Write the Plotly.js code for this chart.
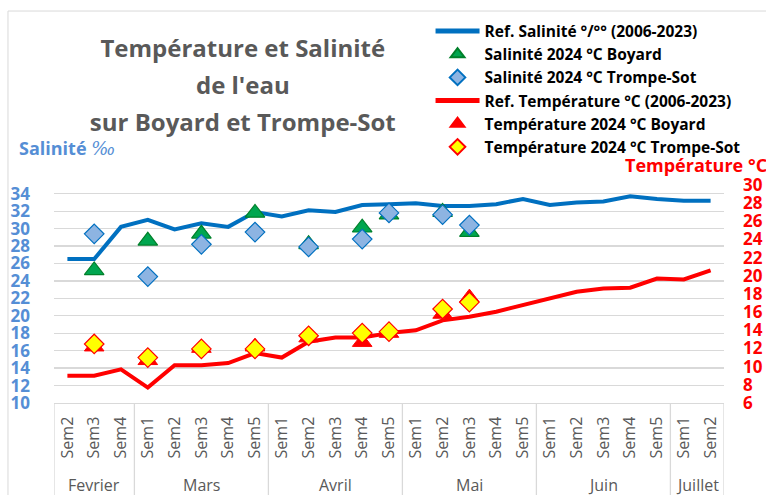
<!DOCTYPE html>
<html>
<head>
<meta charset="utf-8">
<script src="https://cdn.plot.ly/plotly-3.0.1.min.js"></script>
<style>
  html, body { margin: 0; padding: 0; background: #ffffff; }
  #chart { width: 766px; height: 495px; }
</style>
</head>
<body>
<div id="chart"></div>
<script>
// ---- Data ----
const months = ['Fevrier','Fevrier','Fevrier',
  'Mars','Mars','Mars','Mars','Mars',
  'Avril','Avril','Avril','Avril','Avril',
  'Mai','Mai','Mai','Mai','Mai',
  'Juin','Juin','Juin','Juin','Juin',
  'Juillet','Juillet'];
const weeks = ['Sem2','Sem3','Sem4',
  'Sem1','Sem2','Sem3','Sem4','Sem5',
  'Sem1','Sem2','Sem3','Sem4','Sem5',
  'Sem1','Sem2','Sem3','Sem4','Sem5',
  'Sem1','Sem2','Sem3','Sem4','Sem5',
  'Sem1','Sem2'];

const refSalinite = [26.5, 26.5, 30.2, 31.0, 29.9, 30.6, 30.2, 31.9, 31.4, 32.1, 31.9, 32.7, 32.8,
  32.9, 32.6, 32.6, 32.8, 33.4, 32.7, 33.0, 33.1, 33.7, 33.4, 33.2, 33.2];
const salBoyard = [null, 25.2, null, 28.6, null, 29.4, null, 31.8, null, 28.2, null, 30.1, 31.6,
  null, 31.9, 29.6, null, null, null, null, null, null, null, null, null];
const salTrompeSot = [null, 29.4, null, 24.5, null, 28.2, null, 29.6, null, 27.9, null, 28.8, 31.8,
  null, 31.6, 30.4, null, null, null, null, null, null, null, null, null];

const refTemperature = [9.0, 9.0, 9.7, 7.7, 10.15, 10.15, 10.4, 11.5, 11.0, 12.75, 13.2, 13.2, 13.7,
  14.0, 15.1, 15.5, 16.05, 16.8, 17.6, 18.25, 18.6, 18.7, 19.7, 19.6, 20.6];
const tempBoyard = [null, 12.2, null, 10.7, null, 12.05, null, 12.2, null, 13.2, null, 12.7, 13.7,
  null, 15.8, 17.6, null, null, null, null, null, null, null, null, null];
const tempTrompeSot = [null, 12.5, null, 11.0, null, 11.95, null, 11.95, null, 13.4, null, 13.7, 13.85,
  null, 16.35, 17.1, null, null, null, null, null, null, null, null, null];

const salTicks = [10, 12, 14, 16, 18, 20, 22, 24, 26, 28, 30, 32, 34];
const tempTicks = [6, 8, 10, 12, 14, 16, 18, 20, 22, 24, 26, 28, 30];

const titleLines = ["Température et Salinité", "de l'eau", "sur Boyard et Trompe-Sot"];

// ---- Category positions (one slot per week) ----
const xPos = weeks.map((w, i) => i);

// month groups derived from the months array
const groups = [];
months.forEach((m, i) => {
  if (!groups.length || groups[groups.length - 1].name !== m) {
    groups.push({name: m, start: i, end: i});
  } else {
    groups[groups.length - 1].end = i;
  }
});

const GREY_LINE = '#D9D9D9';
const LABEL_BOTTOM = -0.425;   // paper units below the plot, to bottom of the label box

const monthAnnotations = groups.map(g => ({
  text: g.name, xref: 'x', yref: 'paper',
  x: (g.start + g.end) / 2, y: -0.376,
  xanchor: 'center', yanchor: 'middle', showarrow: false,
  font: {family: 'Open Sans, sans-serif', size: 16, color: '#595959'}
}));

const dividerShapes = groups.map(g => ({
  type: 'line', xref: 'x', yref: 'paper',
  x0: g.start - 0.5, x1: g.start - 0.5, y0: 0, y1: LABEL_BOTTOM,
  line: {color: GREY_LINE, width: 1.3}
}));
dividerShapes.push({
  type: 'line', xref: 'x', yref: 'paper',
  x0: months.length - 0.5, x1: months.length - 0.5, y0: 0, y1: LABEL_BOTTOM,
  line: {color: GREY_LINE, width: 1.3}
});

// ---- Chart ----
const traces = [
  {
    x: xPos, y: refSalinite, type: 'scatter', mode: 'lines',
    name: 'Ref. Salinité °/°° (2006-2023)',
    line: {color: '#0070C0', width: 4}, yaxis: 'y'
  },
  {
    x: xPos, y: salBoyard, type: 'scatter', mode: 'markers',
    name: 'Salinité 2024 °C Boyard',
    marker: {symbol: 'triangle-up', size: 17, color: '#00A650', line: {color: '#00802A', width: 1.2}},
    yaxis: 'y'
  },
  {
    x: xPos, y: salTrompeSot, type: 'scatter', mode: 'markers',
    name: 'Salinité 2024 °C Trompe-Sot',
    marker: {symbol: 'diamond', size: 15, color: '#8DB4E2', line: {color: '#0070C0', width: 1.2}},
    yaxis: 'y'
  },
  {
    x: xPos, y: refTemperature, type: 'scatter', mode: 'lines',
    name: 'Ref. Température °C (2006-2023)',
    line: {color: '#FF0000', width: 4}, yaxis: 'y2'
  },
  {
    x: xPos, y: tempBoyard, type: 'scatter', mode: 'markers',
    name: 'Température 2024 °C Boyard',
    marker: {symbol: 'triangle-up', size: 17, color: '#FF0000', line: {color: '#FF0000', width: 1}},
    yaxis: 'y2'
  },
  {
    x: xPos, y: tempTrompeSot, type: 'scatter', mode: 'markers',
    name: 'Température 2024 °C Trompe-Sot',
    marker: {symbol: 'diamond', size: 15, color: '#FFFF00', line: {color: '#FF0000', width: 1.2}},
    yaxis: 'y2'
  }
];

const layout = {
  width: 766, height: 495,
  margin: {l: 54, r: 42, t: 185, b: 92, pad: 0},
  paper_bgcolor: '#ffffff', plot_bgcolor: '#ffffff',
  font: {family: 'Open Sans, sans-serif', color: '#595959'},
  title: {
    text: titleLines.map(t => '<span style="font-size:24px">' + t + '</span>').join('<br>'),
    font: {family: 'Open Sans, sans-serif', size: 28.5, color: '#595959', weight: 'bold'},
    xref: 'container', x: 0.317, xanchor: 'center',
    yref: 'container', y: 0.885, yanchor: 'middle'
  },
  showlegend: true,
  legend: {
    xref: 'paper', yref: 'paper',
    x: 0.562, y: 1.782, xanchor: 'left', yanchor: 'top',
    font: {family: 'Open Sans, sans-serif', size: 15.5, color: '#000000', weight: 'bold'},
    bgcolor: 'rgba(0,0,0,0)', borderwidth: 0,
    itemsizing: 'constant', itemwidth: 44, tracegroupgap: 0
  },
  xaxis: {
    type: 'linear', range: [-0.5, months.length - 0.5],
    tickmode: 'array', tickvals: xPos, ticktext: weeks,
    tickangle: -90,
    tickfont: {family: 'Open Sans, sans-serif', size: 16, color: '#595959'},
    showgrid: false, zeroline: false,
    showline: true, linecolor: GREY_LINE, linewidth: 1.3,
    ticks: '', ticklabelstandoff: 6
  },
  yaxis: {
    range: [10, 35], tickmode: 'array', tickvals: salTicks,
    tickfont: {family: 'Open Sans, sans-serif', size: 17, color: '#558ED5', weight: 'bold'},
    showgrid: true, gridcolor: GREY_LINE, gridwidth: 1.3,
    zeroline: false, showline: false, ticks: '',
    ticklabelstandoff: 23
  },
  yaxis2: {
    overlaying: 'y', side: 'right',
    range: [6, 30], tickmode: 'array', tickvals: tempTicks,
    tickfont: {family: 'Open Sans, sans-serif', size: 17, color: '#FF0000', weight: 'bold'},
    showgrid: false, zeroline: false, showline: false, ticks: '',
    ticklabelstandoff: 18
  },
  annotations: [
    {
      text: 'Salinité <span style="font-family:DejaVu Serif;font-weight:normal;font-style:italic">‰</span>',
      xref: 'paper', yref: 'paper',
      x: -0.0552, y: 1.17, xanchor: 'left', yanchor: 'middle', showarrow: false,
      font: {family: 'Open Sans, sans-serif', size: 18, color: '#558ED5', weight: 'bold'}
    },
    {
      text: 'Température °C', xref: 'paper', yref: 'paper',
      x: 0.849, y: 1.092, xanchor: 'left', yanchor: 'middle', showarrow: false,
      font: {family: 'Open Sans, sans-serif', size: 18, color: '#FF0000', weight: 'bold'}
    }
  ].concat(monthAnnotations),
  shapes: [
    {
      type: 'rect', xref: 'paper', yref: 'paper',
      x0: -0.0687, x1: 1.2, y0: -1, y1: 1.798,
      line: {color: GREY_LINE, width: 1}, layer: 'below'
    }
  ].concat(dividerShapes)
};

Plotly.newPlot('chart', traces, layout, {displayModeBar: false, staticPlot: true});
</script>
</body>
</html>
